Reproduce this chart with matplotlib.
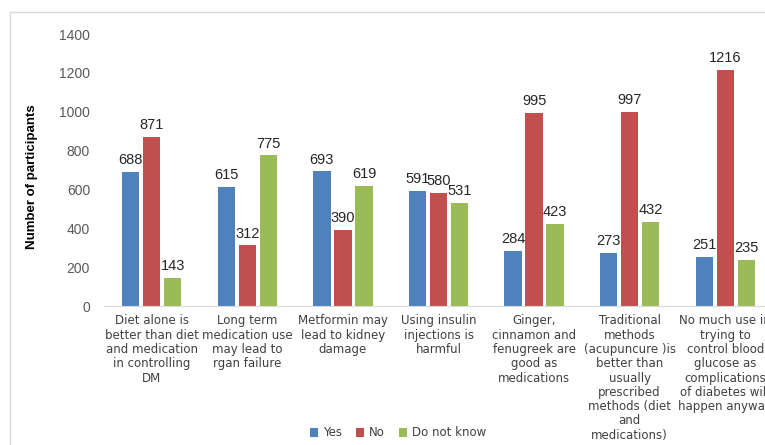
import matplotlib
matplotlib.use("Agg")
import matplotlib.pyplot as plt
import numpy as np
from matplotlib.patches import Rectangle

categories = [
    "Diet alone is\nbetter than diet\nand medication\nin controlling\nDM",
    "Long term\nmedication use\nmay lead to\nrgan failure",
    "Metformin may\nlead to kidney\ndamage",
    "Using insulin\ninjections is\nharmful",
    "Ginger,\ncinnamon and\nfenugreek are\ngood as\nmedications",
    "Traditional\nmethods\n(acupuncure )is\nbetter than\nusually\nprescribed\nmethods (diet\nand\nmedications)",
    "No much use in\ntrying to\ncontrol blood\nglucose as\ncomplications\nof diabetes will\nhappen anyway",
]
yes = [688, 615, 693, 591, 284, 273, 251]
no = [871, 312, 390, 580, 995, 997, 1216]
dnk = [143, 775, 619, 531, 423, 432, 235]
series_names = ["Yes", "No", "Do not know"]
colors = ["#4F81BD", "#C0504D", "#9BBB59"]
yticks = [0, 200, 400, 600, 800, 1000, 1200, 1400]

plt.rcParams['font.family'] = ['Liberation Sans', 'DejaVu Sans']

W, H = 765, 445
fig = plt.figure(figsize=(W / 100, H / 100), dpi=100)
fig.patches.append(Rectangle((10 / W, -20 / H), (W + 20) / W, (H - 12 + 20) / H,
                             transform=fig.transFigure, fill=False,
                             edgecolor="#D9D9D9", linewidth=1))

ax_left, ax_right = 104, 773
ax_top, ax_bottom = 34, 306
ax = fig.add_axes([ax_left / W, 1 - ax_bottom / H, (ax_right - ax_left) / W, (ax_bottom - ax_top) / H])

x = np.arange(len(categories))
bw = 0.18
offs = [-0.22, 0.0, 0.22]
for vals, off, c, name in zip([yes, no, dnk], offs, colors, series_names):
    bars = ax.bar(x + off, vals, bw, color=c, label=name, zorder=2)
    for b, v in zip(bars, vals):
        ax.text(b.get_x() + b.get_width() / 2, v + 25, str(v), ha="center", va="bottom",
                fontsize=10.5, color="#262626")

ax.set_xlim(-0.5, len(categories) - 0.5)
ax.set_ylim(0, 1400)
ax.set_yticks(yticks)
ax.set_yticklabels([str(t) for t in yticks], fontsize=10, color="#595959")
ax.tick_params(axis="y", length=0, pad=10)
ax.set_xticks(x)
ax.set_xticklabels(categories, fontsize=8.5, color="#404040", linespacing=1.13,
                   family=['DejaVu Sans'])
ax.tick_params(axis="x", length=0, pad=6)
for s in ["top", "right", "left"]:
    ax.spines[s].set_visible(False)
ax.spines["bottom"].set_color("#D9D9D9")
ax.set_facecolor("none")

fig.text(32 / W, 1 - 177 / H, "Number of participants", rotation=90, ha="center", va="center",
         fontsize=9.5, fontweight="bold", color="black")

handles, labels = ax.get_legend_handles_labels()
fig.legend(handles, labels, loc="center", bbox_to_anchor=(398 / W, 1 - 433 / H), ncol=3,
           frameon=False, prop={'family': 'DejaVu Sans', 'size': 8.5}, handlelength=0.7,
           handleheight=0.7, columnspacing=1.2, handletextpad=0.4, labelcolor="#404040")

fig.savefig("out.png", dpi=100)
